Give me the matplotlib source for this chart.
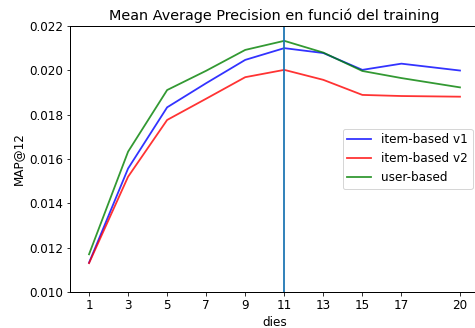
import numpy as np
import matplotlib
matplotlib.use('Agg')
import matplotlib.pyplot as plt

dies = [1, 3, 5, 7, 9, 11, 13, 15, 17, 20]
item_v1 = [0.01132, 0.01557, 0.01833, 0.01942, 0.02047, 0.02100, 0.02078, 0.02002, 0.02030, 0.01999]
item_v2 = [0.01130, 0.01520, 0.01776, 0.01872, 0.01969, 0.02002, 0.01957, 0.01889, 0.01884, 0.01881]
user_based = [0.01170, 0.01633, 0.01911, 0.01998, 0.02092, 0.02133, 0.02080, 0.01997, 0.01965, 0.01923]
best_dia = 11

plt.rcParams['font.size'] = 12
plt.rcParams['lines.linewidth'] = 1.8
plt.rcParams['axes.linewidth'] = 1.0

fig = plt.figure(figsize=(475 / 72, 328 / 72), dpi=72)
ax = fig.add_axes([0.1484, 0.1098, 0.859, 0.811])

ax.plot(dies, item_v1, color='blue', alpha=0.8, label='item-based v1')
ax.plot(dies, item_v2, color='red', alpha=0.8, label='item-based v2')
ax.plot(dies, user_based, color='green', alpha=0.8, label='user-based')
ax.axvline(best_dia)

ax.set_xticks(dies)
ax.set_ylim(0.010, 0.022)
ax.set_yticks(np.arange(0.010, 0.0221, 0.002))
ax.set_title('Mean Average Precision en funció del training', fontsize=14.4)
ax.set_xlabel('dies')
ax.set_ylabel('MAP@12')
ax.legend(loc='center right')

fig.savefig('out.png', dpi=72)
